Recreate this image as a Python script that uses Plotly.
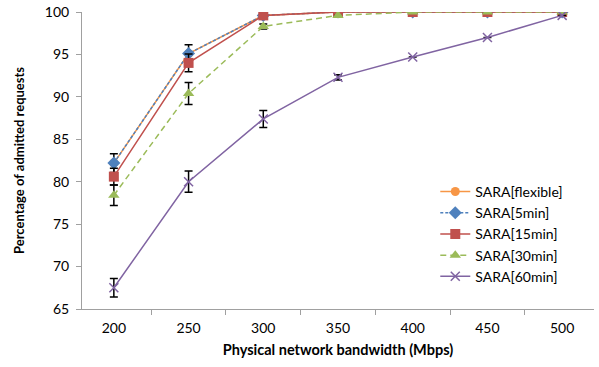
import plotly.graph_objects as go

bandwidth = ["200", "250", "300", "350", "400", "450", "500"]

flexible = [82.2, 95.1, 99.6, 100.0, 100.0, 100.0, 100.0]
min5 = [82.2, 95.1, 99.6, 100.0, 100.0, 100.0, 100.0]
min15 = [80.6, 94.0, 99.6, 100.0, 100.0, 100.0, 100.0]
min30 = [78.4, 90.4, 98.3, 99.6, 100.0, 100.0, 100.0]
min60 = [67.5, 80.0, 87.4, 92.3, 94.7, 97.0, 99.6]

err5 = [1.1, 1.05, 0.0, 0.0, 0.0, 0.0, 0.0]
err15 = [1.0, 1.05, 0.0, 0.0, 0.0, 0.0, 0.0]
err30 = [1.2, 1.3, 0.3, 0.0, 0.0, 0.0, 0.0]
err60 = [1.1, 1.25, 1.0, 0.3, 0.0, 0.0, 0.0]

font_family = "Lato, 'Open Sans', Arial, sans-serif"

def eb(arr):
    return dict(type="data", array=arr, visible=True, color="black",
                thickness=1.5, width=4)

fig = go.Figure()
fig.add_trace(go.Scatter(
    x=bandwidth, y=flexible, name="SARA[flexible]", mode="lines+markers",
    line=dict(color="#F79646", width=1.5),
    marker=dict(symbol="circle", size=9, color="#F79646")))
fig.add_trace(go.Scatter(
    x=bandwidth, y=min5, name="SARA[5min]", mode="lines+markers",
    line=dict(color="#4F81BD", width=1.5, dash="3px,2px"),
    marker=dict(symbol="diamond", size=10, color="#4F81BD"),
    error_y=eb(err5)))
fig.add_trace(go.Scatter(
    x=bandwidth, y=min15, name="SARA[15min]", mode="lines+markers",
    line=dict(color="#C0504D", width=1.5),
    marker=dict(symbol="square", size=10, color="#C0504D"),
    error_y=eb(err15)))
fig.add_trace(go.Scatter(
    x=bandwidth, y=min30, name="SARA[30min]", mode="lines+markers",
    line=dict(color="#9BBB59", width=1.5, dash="6px,4px"),
    marker=dict(symbol="triangle-up", size=10, color="#9BBB59"),
    error_y=eb(err30)))
fig.add_trace(go.Scatter(
    x=bandwidth, y=min60, name="SARA[60min]", mode="lines+markers",
    line=dict(color="#8064A2", width=1.5),
    marker=dict(symbol="x-thin", size=9, color="#8064A2",
                line=dict(color="#8064A2", width=1.5)),
    error_y=eb(err60)))

fig.update_layout(
    width=599, height=367,
    margin=dict(l=82, r=5, t=12, b=58, autoexpand=False),
    paper_bgcolor="white", plot_bgcolor="white",
    font=dict(family=font_family, size=13, color="#000000"),
    showlegend=True,
    legend=dict(x=0.69, y=0.448, xanchor="left", yanchor="top",
                bgcolor="rgba(0,0,0,0)", font=dict(size=14),
                tracegroupgap=0),
    xaxis=dict(
        type="category", tickson="boundaries", ticks="outside", ticklen=5,
        tickcolor="#A0A0A0", showline=True, linecolor="#A0A0A0", linewidth=1,
        showgrid=False, zeroline=False, automargin=False,
        tickfont=dict(size=14), ticklabelstandoff=6,
        title=dict(text="<b>Physical network bandwidth (Mbps)</b>",
                   font=dict(size=14.5), standoff=10),
    ),
    yaxis=dict(
        range=[65, 100], dtick=5, ticks="outside", ticklen=5,
        tickcolor="#A0A0A0", showline=True, linecolor="#A0A0A0", linewidth=1,
        showgrid=False, zeroline=False, automargin=False,
        tickfont=dict(size=14), ticklabelstandoff=4,
        title=dict(text="<b>Percentage of admitted requests</b>",
                   font=dict(size=13), standoff=17),
    ),
)

fig.write_html("out.html",
               config={"displayModeBar": False},
               post_script="document.body.style.margin='0';")
